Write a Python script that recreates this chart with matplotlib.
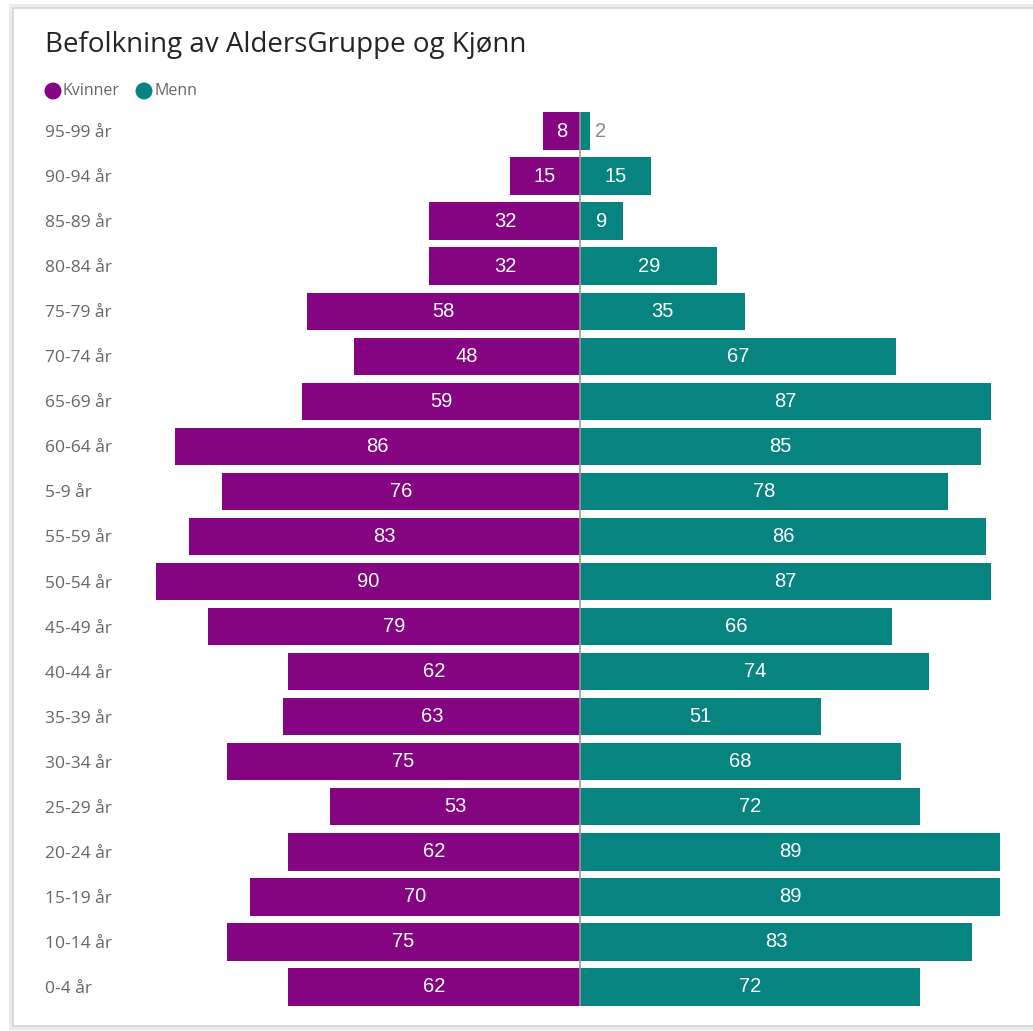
import matplotlib
matplotlib.use("Agg")
import matplotlib.pyplot as plt
from matplotlib.patches import Rectangle, Circle
import numpy as np

categories = ["0-4 år", "10-14 år", "15-19 år", "20-24 år", "25-29 år", "30-34 år",
              "35-39 år", "40-44 år", "45-49 år", "50-54 år", "55-59 år", "5-9 år",
              "60-64 år", "65-69 år", "70-74 år", "75-79 år", "80-84 år", "85-89 år",
              "90-94 år", "95-99 år"]
kvinner = [62, 75, 70, 62, 53, 75, 63, 62, 79, 90, 83, 76, 86, 59, 48, 58, 32, 32, 15, 8]
menn = [72, 83, 89, 89, 72, 68, 51, 74, 66, 87, 86, 78, 85, 87, 67, 35, 29, 9, 15, 2]
series_names = ["Kvinner", "Menn"]
title = "Befolkning av AldersGruppe og Kjønn"

c_k = "#840481"
c_m = "#088480"

W, H = 1033, 1031
fig = plt.figure(figsize=(W / 100, H / 100), dpi=100)
fig.patch.set_facecolor("white")

def fx(px): return px / W
def fy(py): return 1 - py / H

shadow = Rectangle((fx(9), fy(1030)), fx(1040) - fx(9), fy(4) - fy(1030),
                   transform=fig.transFigure, facecolor="#ececec", edgecolor="none", zorder=-2)
fig.patches.append(shadow)
panel = Rectangle((fx(13), fy(1026)), fx(1040) - fx(13), fy(8) - fy(1026),
                  transform=fig.transFigure, facecolor="white", edgecolor="#d4d4d4",
                  linewidth=1.2, zorder=-1)
fig.patches.append(panel)

ax_left, ax_right = 156, 1000
ax_top, ax_bot = 108.5, 1009.5
ax = fig.add_axes([fx(ax_left), fy(ax_bot), fx(ax_right) - fx(ax_left), fy(ax_top) - fy(ax_bot)])
ax.set_facecolor("none")
ax.set_zorder(2)

y = np.arange(len(categories))
k = np.array(kvinner)
m = np.array(menn)
bh = 0.83
ax.barh(y, -k, height=bh, color=c_k, zorder=2)
ax.barh(y, m, height=bh, color=c_m, zorder=2)
ax.set_xlim(-90, 89)
ax.set_ylim(-0.5, len(categories) - 0.5)
ax.axvline(0, color="#9a9a9a", linewidth=1.2, zorder=3, ymin=0.005, ymax=0.995)

vfont = dict(family=["Liberation Sans", "DejaVu Sans"], fontsize=14.5)
for yi, kv, mv in zip(y, k, m):
    ax.text(-kv / 2, yi, str(kv), ha="center", va="center", color="white", zorder=4, **vfont)
    if mv >= 5:
        ax.text(mv / 2, yi, str(mv), ha="center", va="center", color="white", zorder=4, **vfont)
    else:
        ax.text(mv + 1.2, yi, str(mv), ha="left", va="center", color="#8a8a8a", zorder=4, **vfont)

ax.set_yticks(y)
ax.set_yticklabels(categories, fontsize=12.5, color="#666666",
                   family=["Open Sans", "DejaVu Sans"])
for lab in ax.get_yticklabels():
    lab.set_ha("left")
ax.tick_params(axis="y", length=0, pad=(ax_left - 45) * 0.72)
ax.set_xticks([])
for s in ax.spines.values():
    s.set_visible(False)

fig.text(fx(45), fy(45), title, ha="left", va="center", fontsize=20,
         color="#252423", family=["Open Sans", "DejaVu Sans"])

for cx, col, name, tx in [(53, c_k, series_names[0], 63), (144, c_m, series_names[1], 154)]:
    circ = Circle((fx(cx), fy(91)), radius=fx(8.5), transform=fig.transFigure,
                  facecolor=col, edgecolor="none")
    fig.patches.append(circ)
    fig.text(fx(tx), fy(91), name, ha="left", va="center", fontsize=11.5,
             color="#666666", family=["Open Sans", "DejaVu Sans"])

fig.savefig("out.png", dpi=100, facecolor="white")
